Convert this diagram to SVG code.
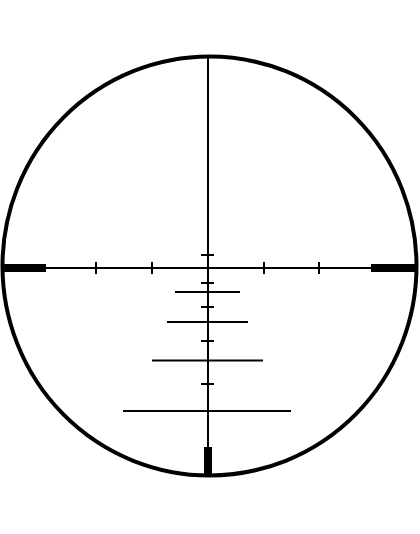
<svg xmlns="http://www.w3.org/2000/svg" width="420" height="534" viewBox="0 0 420 534">
<style>
.thin{stroke:#000;stroke-width:2;fill:none}
.bar{fill:#000}
</style>
<rect width="420" height="534" fill="#fff"/>
<g id="reticle-circle">
<ellipse cx="209.5" cy="266" rx="207" ry="209.5" fill="none" stroke="#000" stroke-width="4"/>
</g>
<g id="crosshair">
<line class="thin" x1="2" y1="268" x2="417" y2="268"/>
<line class="thin" x1="208" y1="56" x2="208" y2="474"/>
<rect class="bar" x="3" y="264" width="43" height="8"/>
<rect class="bar" x="371" y="264" width="44" height="8"/>
<rect class="bar" x="204" y="447" width="8" height="28"/>
</g>
<g id="ticks">
<line class="thin" x1="96" y1="262" x2="96" y2="274"/>
<line class="thin" x1="152" y1="262" x2="152" y2="274"/>
<line class="thin" x1="264" y1="262" x2="264" y2="274"/>
<line class="thin" x1="319" y1="262" x2="319" y2="274"/>
<line class="thin" x1="201" y1="255" x2="214" y2="255"/>
<line class="thin" x1="201" y1="283" x2="214" y2="283"/>
<line class="thin" x1="201" y1="307" x2="214" y2="307"/>
<line class="thin" x1="201" y1="341" x2="214" y2="341"/>
<line class="thin" x1="201" y1="384" x2="214" y2="384"/>
</g>
<g id="bars">
<line class="thin" x1="175" y1="292" x2="240" y2="292"/>
<line class="thin" x1="167" y1="322" x2="248" y2="322"/>
<line class="thin" x1="152" y1="360.5" x2="263" y2="360.5"/>
<line class="thin" x1="123" y1="411" x2="291" y2="411"/>
</g>
</svg>
